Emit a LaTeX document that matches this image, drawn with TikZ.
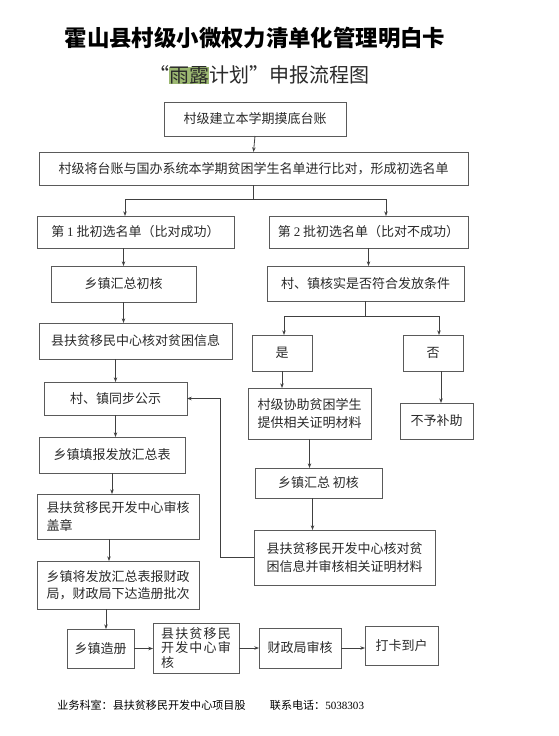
\documentclass[tikz,border=0pt]{standalone}
\usepackage{fontspec}
\setmainfont{Noto Sans CJK SC}
\newfontfamily\lat{Liberation Serif}
\usetikzlibrary{arrows.meta}
\definecolor{hl}{HTML}{9CB872}
\definecolor{bord}{HTML}{5A5A5A}
\definecolor{txt}{HTML}{2A2A2A}
\newcommand\mybox[7][]{\node[box,minimum width={(#5-#3)*0.75pt},minimum height={(#6-#4)*0.75pt},#1] (#2) at ({(#3+#5)/2},{(#4+#6)/2}) {#7};}
\begin{document}
\begin{tikzpicture}[x=0.75pt,y=-0.75pt,
  box/.style={draw=bord,line width=0.7pt,inner sep=0pt,outer sep=0pt,font=\fontsize{9.75}{13}\selectfont,text=txt,align=center},
  ln/.style={draw=black!75,line width=0.6pt},
  arr/.style={ln,-{Stealth[length=3.5pt,width=2.6pt]}}]
\useasboundingbox[fill=white] (0,0) rectangle (558,736);
\node[font=\fontsize{16.8}{20}\selectfont\bfseries] (title) at (255,38) {霍山县村级小微权力清单化管理明白卡};
\node[font=\fontsize{15}{18}\selectfont,text=txt] (sub) at (259,75) {“{\setlength\fboxsep{0pt}\colorbox{hl}{雨露}}计划”申报流程图};
\mybox{b1}{164}{102}{346}{136}{村级建立本学期摸底台账}
\mybox{b2}{39}{152}{468}{185}{村级将台账与国办系统本学期贫困学生名单进行比对，形成初选名单}
\mybox{b3}{37}{216}{234}{248}{第 {\lat 1} 批初选名单（比对成功）}
\mybox{b4}{269}{216}{468}{248}{第 {\lat 2} 批初选名单（比对不成功）}
\mybox{b5}{51}{266}{196}{302}{乡镇汇总初核}
\mybox{b6}{267}{266}{464}{301}{村、镇核实是否符合发放条件}
\mybox{b7}{39}{323}{232}{359}{县扶贫移民中心核对贫困信息}
\mybox{shi}{252}{335}{312}{371}{是}
\mybox{fou}{403}{335}{463}{371}{否}
\mybox{b8}{44}{382}{187}{415}{村、镇同步公示}
\mybox{b9}{248}{388}{371}{439}{村级协助贫困学生\\提供相关证明材料}
\mybox{b10}{400}{403}{473}{439}{不予补助}
\mybox{b11}{39}{437}{185}{473}{乡镇填报发放汇总表}
\mybox{b12}{255}{468}{382}{498}{乡镇汇总 初核}
\mybox[align=left]{b13}{37}{494}{199}{539}{县扶贫移民开发中心审核\\盖章}
\mybox{b14}{254}{530}{435}{585}{县扶贫移民开发中心核对贫\\困信息并审核相关证明材料}
\mybox[align=left]{b15}{37}{561}{199}{609}{乡镇将发放汇总表报财政\\局，财政局下达造册批次}
\mybox[align=left,font=\addfontfeature{LetterSpace=9}\fontsize{9.75}{10.9}\selectfont]{b17}{153}{623}{239}{673}{县扶贫移民\\开发中心审\\核}
\mybox{b16}{67}{629}{134}{668}{乡镇造册}
\mybox{b18}{259}{628}{341}{668}{财政局审核}
\mybox{b19}{365}{626}{438}{665}{打卡到户}
\node[font=\fontsize{8.3}{10}\selectfont,text=black] (f1) at (151.5,705) {业务科室：县扶贫移民开发中心项目股};
\node[font=\fontsize{8.3}{10}\selectfont,text=black] (f2) at (317,705) {联系电话：{\lat 5038303}};
% connectors
\coordinate (s1l) at (125,199);
\coordinate (s1r) at (386,199);
\coordinate (s2l) at (284,316);
\coordinate (s2r) at (439,316);
\coordinate (fb) at (220,398.5);
\draw[arr] (b1.south) -- (b2.north);
\draw[ln] (b2.south) -- (b2.south |- s1l);
\draw[ln] (s1l) -- (s1r);
\draw[arr] (s1l) -- (s1l |- b3.north);
\draw[arr] (s1r) -- (s1r |- b4.north);
\draw[arr] (b3.south -| b5.north) -- (b5.north);
\draw[arr] (b5.south) -- (b7.north -| b5.south);
\draw[arr] (b7.south -| b8.north) -- (b8.north);
\draw[arr] (b8.south) -- (b11.north -| b8.south);
\draw[arr] (b11.south) -- (b13.north -| b11.south);
\draw[arr] ([xshift=-6.75pt]b13.south) -- ([xshift=-6.75pt]b15.north);
\draw[arr] ([xshift=-9pt]b15.south) -- ([xshift=-9pt]b15.south |- b16.north);
\draw[arr] (b16.east) -- (b17.west |- b16.east);
\draw[arr] (b17.east) -- (b18.west |- b17.east);
\draw[arr] (b18.east) -- (b19.west |- b18.east);
\draw[arr] (b4.south) -- (b6.north -| b4.south);
\draw[ln] (b6.south) -- (b6.south |- s2l);
\draw[ln] (s2l) -- (s2r);
\draw[arr] (s2l) -- (s2l |- shi.north);
\draw[arr] (s2r) -- (s2r |- fou.north);
\draw[arr] (shi.south) -- (b9.north -| shi.south);
\draw[arr] ([xshift=6pt]fou.south) -- ([xshift=6pt]fou.south |- b10.north);
\draw[arr] (b9.south) -- (b12.north -| b9.south);
\draw[arr] ([xshift=-4.5pt]b12.south) -- ([xshift=-4.5pt]b12.south |- b14.north);
\draw[arr] (b14.west) -| (fb) -- (b8.east);
\end{tikzpicture}
\end{document}
